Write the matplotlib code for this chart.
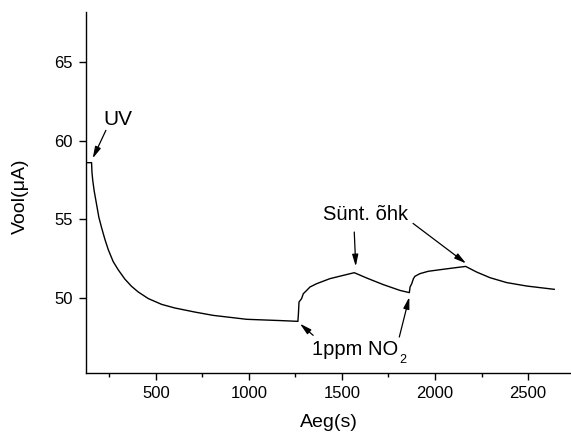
import matplotlib
matplotlib.use("Agg")
import matplotlib.pyplot as plt
from matplotlib.ticker import MultipleLocator

plt.rcParams['font.family'] = ['Liberation Sans', 'DejaVu Sans']

time_s = [128, 154, 156, 160, 168, 177, 193, 208, 226, 244, 270, 297, 333, 369,
          405, 459, 531, 602, 710, 808, 988, 1167, 1263, 1266, 1269, 1283, 1292,
          1310, 1328, 1364, 1435, 1507, 1566, 1633, 1722, 1812, 1862, 1866, 1875,
          1884, 1892, 1919, 1937, 1964, 2027, 2098, 2165, 2224, 2296, 2385, 2493,
          2641]
current_uA = [58.6, 58.6, 58.0, 57.5, 56.8, 56.2, 55.13, 54.45, 53.70, 53.05, 52.30,
              51.78, 51.18, 50.72, 50.36, 49.94, 49.57, 49.34, 49.08, 48.87, 48.62,
              48.54, 48.49, 49.0, 49.72, 49.94, 50.25, 50.46, 50.68, 50.89, 51.21,
              51.42, 51.59, 51.25, 50.83, 50.46, 50.32, 50.68, 50.89, 51.21, 51.36,
              51.53, 51.59, 51.68, 51.78, 51.89, 51.99, 51.63, 51.27, 50.96, 50.74,
              50.53]

x_ticks = [500, 1000, 1500, 2000, 2500]
y_ticks = [50, 55, 60, 65]

fig = plt.figure(figsize=(5.71, 4.33), dpi=100)
ax = fig.add_axes([0.1506, 0.1386, 0.8494, 0.8337])
ax.plot(time_s, current_uA, color='black', lw=1.0)

ax.set_xlim(124, 2731)
ax.set_ylim(45.2, 68.2)
ax.set_xticks(x_ticks)
ax.set_yticks(y_ticks)
ax.xaxis.set_minor_locator(MultipleLocator(250))
ax.spines['top'].set_visible(False)
ax.spines['right'].set_visible(False)
for s in ['left', 'bottom']:
    ax.spines[s].set_linewidth(1.0)
ax.tick_params(axis='both', which='major', direction='out', length=5, width=1.0,
               labelsize=12, pad=4.5)
ax.tick_params(axis='x', which='minor', direction='out', length=3, width=1.0)

ax.set_xlabel('Aeg(s)', fontsize=14, labelpad=9)
ax.set_ylabel('Vool(μA)', fontsize=14)
ax.yaxis.set_label_coords(-0.118, 0.49)

ap = dict(arrowstyle='-|>,head_width=0.18,head_length=0.7', color='black', lw=0.9,
          shrinkA=0, shrinkB=0)

ax.text(220, 61.35, 'UV', fontsize=15, ha='left', va='center')
ax.annotate('', xy=(160, 58.87), xytext=(231, 60.66), arrowprops=ap)

ax.text(1629, 55.31, 'Sünt. õhk', fontsize=14.5, ha='center', va='center')
ax.annotate('', xy=(1574, 51.99), xytext=(1566, 54.18), arrowprops=ap)
ax.annotate('', xy=(2167, 52.18), xytext=(1882, 54.73), arrowprops=ap)

t1 = ax.text(1337, 46.33, '1ppm NO', fontsize=14.5, ha='left', va='baseline')
ax.annotate('2', xy=(1, 0), xycoords=t1, xytext=(1, -5), textcoords='offset points',
            fontsize=9, ha='left', va='bottom')
ax.annotate('', xy=(1274, 48.34), xytext=(1345, 47.6), arrowprops=ap)
ax.annotate('', xy=(1862, 50.04), xytext=(1808, 47.49), arrowprops=ap)

fig.savefig('out.png', dpi=100)
